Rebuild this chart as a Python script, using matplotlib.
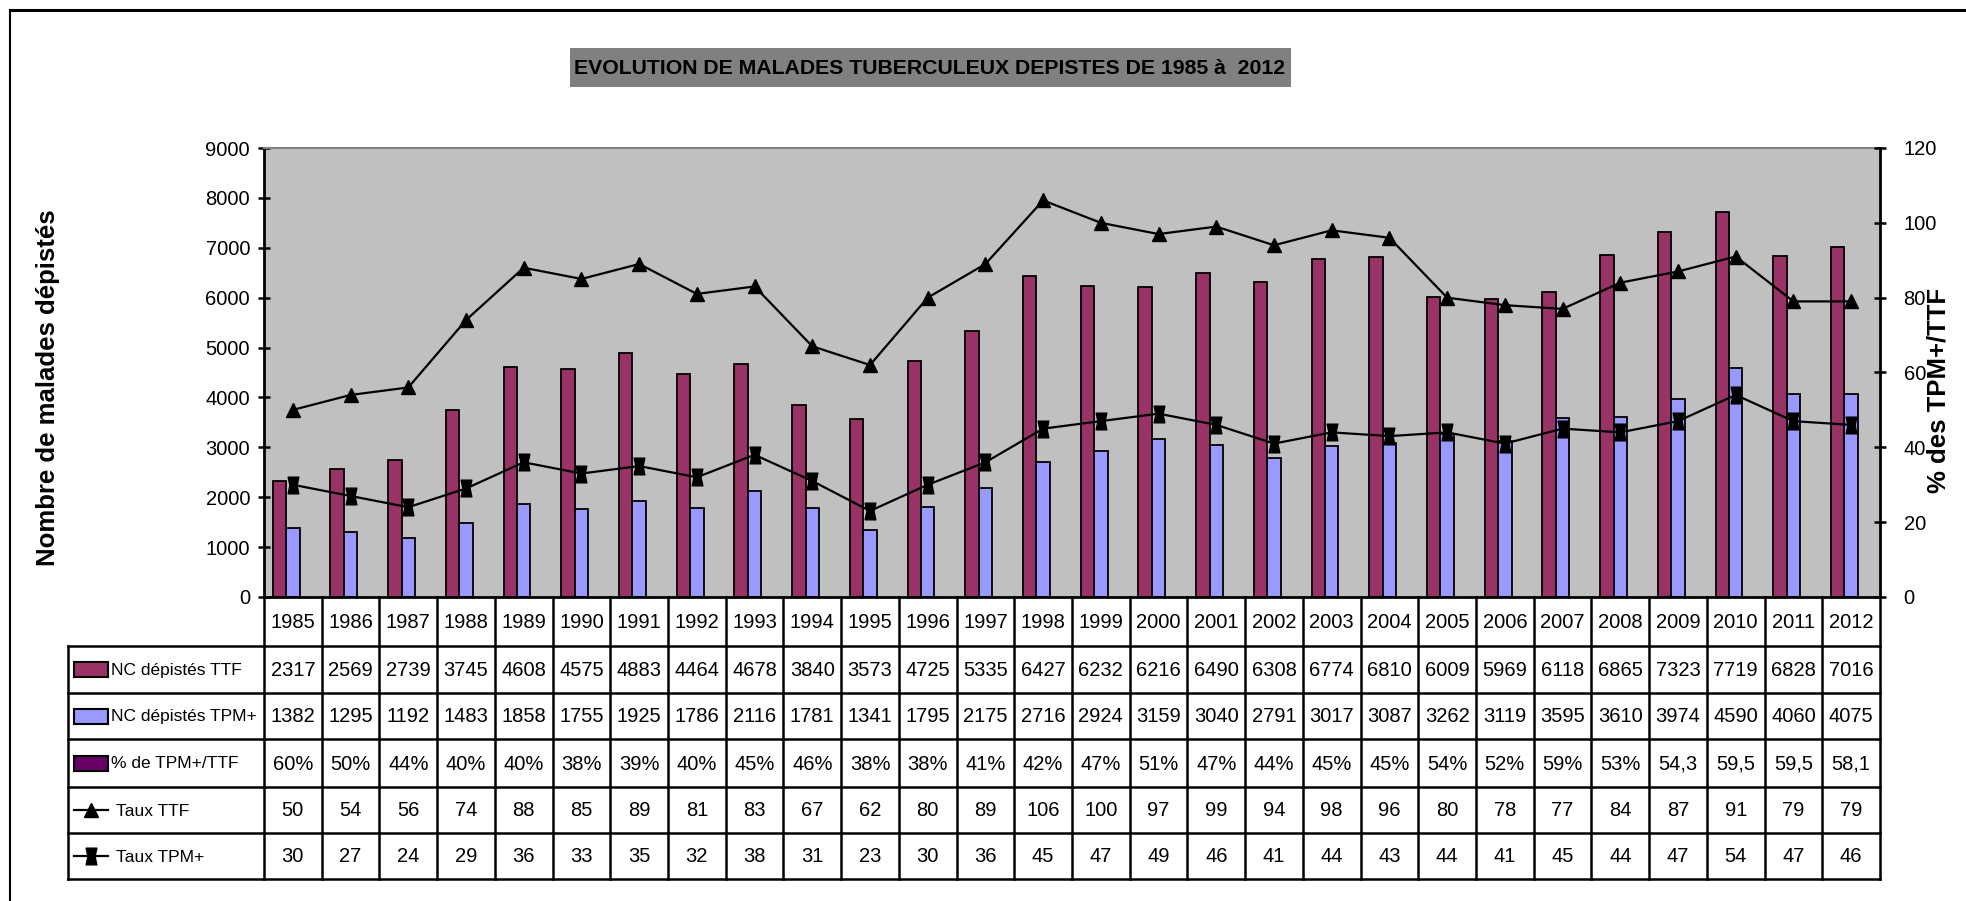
import matplotlib
matplotlib.use("Agg")
import matplotlib.pyplot as plt
from matplotlib.path import Path
from matplotlib.patches import Rectangle
from matplotlib.lines import Line2D
import numpy as np

years = list(range(1985, 2013))
nc_ttf = [2317, 2569, 2739, 3745, 4608, 4575, 4883, 4464, 4678, 3840, 3573, 4725, 5335, 6427,
          6232, 6216, 6490, 6308, 6774, 6810, 6009, 5969, 6118, 6865, 7323, 7719, 6828, 7016]
nc_tpm = [1382, 1295, 1192, 1483, 1858, 1755, 1925, 1786, 2116, 1781, 1341, 1795, 2175, 2716,
          2924, 3159, 3040, 2791, 3017, 3087, 3262, 3119, 3595, 3610, 3974, 4590, 4060, 4075]
pct_labels = ["60%", "50%", "44%", "40%", "40%", "38%", "39%", "40%", "45%", "46%", "38%", "38%",
              "41%", "42%", "47%", "51%", "47%", "44%", "45%", "45%", "54%", "52%", "59%", "53%",
              "54,3", "59,5", "59,5", "58,1"]
pct_values = [0.60, 0.50, 0.44, 0.40, 0.40, 0.38, 0.39, 0.40, 0.45, 0.46, 0.38, 0.38, 0.41, 0.42,
              0.47, 0.51, 0.47, 0.44, 0.45, 0.45, 0.54, 0.52, 0.59, 0.53, 0.543, 0.595, 0.595, 0.581]
taux_ttf = [50, 54, 56, 74, 88, 85, 89, 81, 83, 67, 62, 80, 89, 106, 100, 97, 99, 94, 98, 96,
            80, 78, 77, 84, 87, 91, 79, 79]
taux_tpm = [30, 27, 24, 29, 36, 33, 35, 32, 38, 31, 23, 30, 36, 45, 47, 49, 46, 41, 44, 43,
            44, 41, 45, 44, 47, 54, 47, 46]
series_names = ["NC dépistés TTF", "NC dépistés TPM+", "% de TPM+/TTF", "Taux TTF", "Taux TPM+"]
title = "EVOLUTION DE MALADES TUBERCULEUX DEPISTES DE 1985 à  2012"
left_label = "Nombre de malades dépistés"
right_label = "% des TPM+/TTF"

C_TTF = "#993366"
C_TPM = "#9999FF"
C_PCT = "#660066"
BG = "#C0C0C0"
NARROW = ["Liberation Sans Narrow", "Liberation Sans", "DejaVu Sans"]
BOLD = ["Liberation Sans", "DejaVu Sans"]
FS_NUM = 14.5
FS_HDR = 12.5

W, H = 1966, 901
fig = plt.figure(figsize=(W / 100, H / 100), dpi=100)
fig.patch.set_facecolor("white")

# plot area in pixels
PL, PR, PT, PB = 264, 1880, 148, 597
ax = fig.add_axes([PL / W, 1 - PB / H, (PR - PL) / W, (PB - PT) / H])
ax.set_facecolor(BG)
n = len(years)
x = np.arange(n)
bw = 0.233
ax.bar(x - bw, nc_ttf, bw, color=C_TTF, edgecolor="black", linewidth=1.3, zorder=2)
ax.bar(x, nc_tpm, bw, color=C_TPM, edgecolor="black", linewidth=1.3, zorder=2)
ax.bar(x + bw, pct_values, bw, color=C_PCT, edgecolor="black", linewidth=0.6, zorder=2)
ax.set_xlim(-0.5, n - 0.5)
ax.set_ylim(0, 9000)
ax.set_yticks(np.arange(0, 9001, 1000))
ax.set_xticks([])
for lab in ax.get_yticklabels():
    lab.set_family(NARROW)
ax.tick_params(axis="y", direction="inout", length=8, width=1.8, labelsize=FS_NUM, pad=6)
ax.spines["top"].set_color("#808080")
ax.spines["top"].set_linewidth(1.5)
ax.spines["right"].set_visible(False)
for s in ["left", "bottom"]:
    ax.spines[s].set_linewidth(2)

ax2 = ax.twinx()
ax2.set_ylim(0, 120)
ax2.set_yticks(np.arange(0, 121, 20))
ax2.tick_params(axis="y", direction="inout", length=8, width=1.8, labelsize=FS_NUM, pad=13)
for lab in ax2.get_yticklabels():
    lab.set_family(NARROW)
for s in ["left", "top", "bottom"]:
    ax2.spines[s].set_visible(False)
ax2.spines["right"].set_linewidth(2)

hour = Path([(-0.45, -0.7), (0.45, -0.7), (0.3, 0.0), (0.45, 0.7), (-0.45, 0.7), (-0.3, 0.0), (-0.45, -0.7)],
            [Path.MOVETO, Path.LINETO, Path.LINETO, Path.LINETO, Path.LINETO, Path.LINETO, Path.CLOSEPOLY])
ax2.plot(x, taux_ttf, color="black", lw=1.6, marker="^", markersize=10, zorder=5)
ax2.plot(x, taux_tpm, color="black", lw=1.6, marker=hour, markersize=12, zorder=5)

# left / right axis labels
fig.text(48 / W, 1 - 388 / H, left_label, rotation=90, ha="center", va="center",
         fontsize=18.5, fontweight="bold", family=BOLD)
fig.text(1938 / W, 1 - 390 / H, right_label, rotation=90, ha="center", va="center",
         fontsize=18.5, fontweight="bold", family=BOLD)

# title box + title
fig.add_artist(Rectangle((570 / W, 1 - 87 / H), (1291 - 570) / W, (87 - 48) / H,
                         transform=fig.transFigure, facecolor="#808080", edgecolor="none"))
fig.text(930 / W, 1 - 68 / H, title, ha="center", va="center", fontsize=15.3,
         fontweight="bold", family=NARROW)

# outer frame
fig.add_artist(Line2D([10 / W, 1], [1 - 10 / H, 1 - 10 / H], color="black", lw=2.2))
fig.add_artist(Line2D([10 / W, 10 / W], [1 - 10 / H, 0], color="black", lw=1.5))

# data table
TL, TB = 68, 880
cw = (PR - PL) / n
hdr = (PL - TL) / cw
tax = fig.add_axes([TL / W, 1 - TB / H, (PR - TL) / W, (TB - PB) / H])
tax.set_xlim(-0.5 - hdr, n - 0.5)
tax.set_ylim(TB, PB)
tax.axis("off")
rows = [597, 646, 693, 739, 787, 833, 879]


def px2x(px):
    return -0.5 + (px - PL) / cw


lk = dict(color="black", lw=1.8, clip_on=False, solid_capstyle="projecting")
for yb in rows[1:]:
    tax.plot([-0.5 - hdr, n - 0.5], [yb, yb], **lk)
for j in range(n + 1):
    tax.plot([j - 0.5, j - 0.5], [rows[0], rows[-1]], **lk)
tax.plot([-0.5 - hdr, -0.5 - hdr], [rows[1], rows[-1]], **lk)

table_rows = [[str(v) for v in nc_ttf], [str(v) for v in nc_tpm], pct_labels,
              [str(v) for v in taux_ttf], [str(v) for v in taux_tpm]]
for j in range(n):
    tax.text(j, (rows[0] + rows[1]) / 2 + 1, str(years[j]), ha="center", va="center",
             fontsize=FS_NUM, family=NARROW)
for r, vals in enumerate(table_rows):
    yc = (rows[r + 1] + rows[r + 2]) / 2 + 1
    for j in range(n):
        tax.text(j, yc, vals[j], ha="center", va="center", fontsize=FS_NUM, family=NARROW)

# legend keys in header column
sx0, sx1 = px2x(74), px2x(108)
for r, c in enumerate([C_TTF, C_TPM, C_PCT]):
    yc = (rows[r + 1] + rows[r + 2]) / 2
    tax.add_patch(Rectangle((sx0, yc - 7.5), sx1 - sx0, 15, facecolor=c, edgecolor="black",
                            lw=1.5, clip_on=False))
for r, mk in [(3, "^"), (4, hour)]:
    yc = (rows[r + 1] + rows[r + 2]) / 2
    tax.plot([sx0, sx1], [yc, yc], color="black", lw=1.6, clip_on=False)
    tax.plot([(sx0 + sx1) / 2], [yc], marker=mk, color="black",
             markersize=10 if mk == "^" else 12, clip_on=False)
for r, name in enumerate(series_names):
    yc = (rows[r + 1] + rows[r + 2]) / 2 + 1
    xt = px2x(111 if r < 3 else 116)
    tax.text(xt, yc, name, ha="left", va="center", fontsize=FS_HDR, family=NARROW)

fig.savefig("out.png", dpi=100, facecolor="white")
